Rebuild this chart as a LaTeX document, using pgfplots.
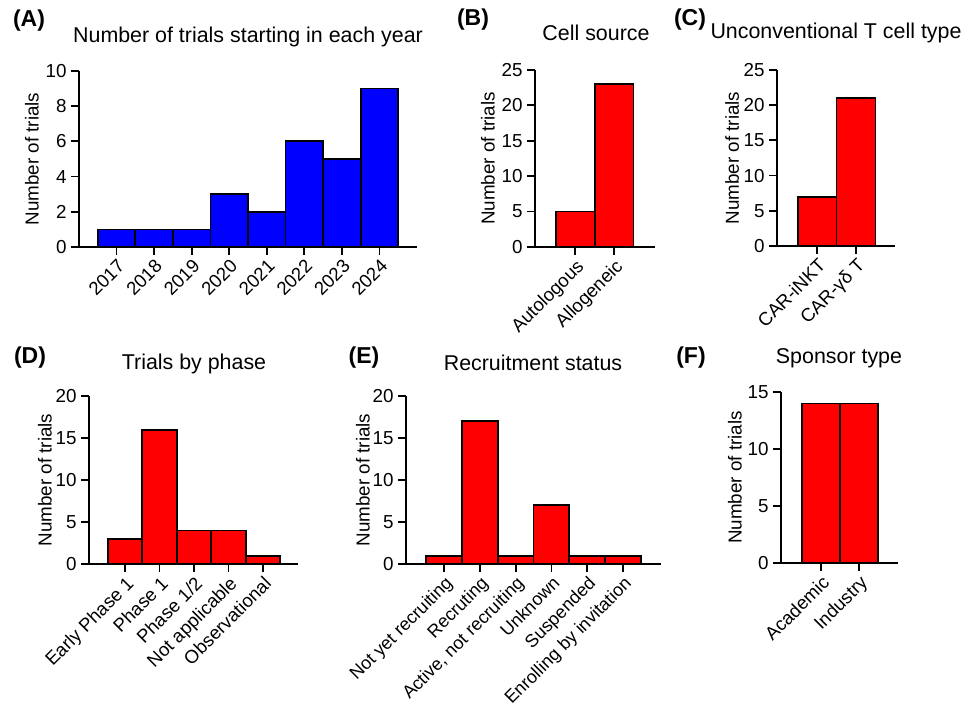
\documentclass[border=0pt]{standalone}
\usepackage{pgfplots}
\pgfplotsset{compat=1.18}
\usepackage{fontspec}
\setmainfont{Liberation Sans}
\newcommand\fs{\fontsize{9.4}{11}\selectfont}
\newcommand\fx{\fontsize{9.3}{11}\selectfont}
\newcommand\fe{\fontsize{9.0}{11}\selectfont}
\newcommand\ft{\fontsize{10.7}{12}\selectfont}
\newcommand\lf{\fontsize{11.5}{13}\selectfont\bfseries}
\definecolor{barblue}{RGB}{0,0,255}
\definecolor{barred}{RGB}{255,0,0}
\pgfplotsset{panel/.style={
  scale only axis, axis x line=bottom, axis y line=left,
  axis line style={-, line width=0.9pt},
  tick align=outside, major tick length=4pt,
  tick style={black, line width=0.9pt},
  ymin=0, ybar, bar width=1, xtick=data,
  enlargelimits=false, anchor=south west,
  xticklabel style={rotate=45, anchor=north east, inner sep=1pt, font=\fx},
  yticklabel style={font=\fs, inner sep=2pt},
  /pgf/number format/assume math mode=true,
  ylabel={Number of trials}, ylabel style={font=\fs, anchor=center},
}}
\begin{document}
\begin{tikzpicture}
\path[use as bounding box] (0,0) rectangle (484.5pt,354pt);
% (A)
\begin{axis}[panel, at={(39.5pt,230.5pt)}, width=169pt, height=88pt,
  xmin=-1, xmax=8, ymax=10, ytick={0,2,...,10},
  xticklabels={2017,2018,2019,2020,2021,2022,2023,2024},
  ylabel style={at={(axis description cs:-0.139,0.5)}}]
\addplot[fill=barblue, draw=black, line width=0.9pt] coordinates {(0,1) (1,1) (2,1) (3,3) (4,2) (5,6) (6,5) (7,9)};
\end{axis}
% (B)
\begin{axis}[panel, at={(267.5pt,230.5pt)}, width=60pt, height=88.5pt,
  xmin=-1.03, xmax=2.05, ymax=25, ytick={0,5,...,25},
  xticklabels={Autologous,Allogeneic},
  ylabel style={at={(axis description cs:-0.392,0.5)}}]
\addplot[fill=barred, draw=black, line width=0.9pt] coordinates {(0,5) (1,23)};
\end{axis}
% (C)
\begin{axis}[panel, at={(388.5pt,231pt)}, width=59pt, height=88pt,
  xmin=-1.03, xmax=2.0, ymax=25, ytick={0,5,...,25},
  xticklabels={CAR-iNKT,CAR-γδ T},
  ylabel style={at={(axis description cs:-0.381,0.5)}}]
\addplot[fill=barred, draw=black, line width=0.9pt] coordinates {(0,7) (1,21)};
\end{axis}
% (D)
\begin{axis}[panel, at={(44.5pt,72pt)}, width=104.5pt, height=84pt,
  xmin=-1.05, xmax=5.02, ymax=20, ytick={0,5,...,20},
  xticklabels={Early Phase 1,Phase 1,Phase 1/2,Not applicable,Observational},
  ylabel style={at={(axis description cs:-0.211,0.5)}}]
\addplot[fill=barred, draw=black, line width=0.9pt] coordinates {(0,3) (1,16) (2,4) (3,4) (4,1)};
\end{axis}
% (E)
\begin{axis}[panel, at={(203pt,72pt)}, width=127.5pt, height=84pt,
  xmin=-1.06, xmax=6.06, ymax=20, ytick={0,5,...,20},
  xticklabel style={font=\fe},
  xticklabels={Not yet recruiting,Recruting,{Active, not recruiting},Unknown,Suspended,Enrolling by invitation},
  ylabel style={at={(axis description cs:-0.169,0.5)}}]
\addplot[fill=barred, draw=black, line width=0.9pt] coordinates {(0,1) (1,17) (2,1) (3,7) (4,1) (5,1)};
\end{axis}
% (F)
\begin{axis}[panel, at={(390.5pt,72.5pt)}, width=58.5pt, height=85.5pt,
  xmin=-1.05, xmax=2.03, ymax=15, ytick={0,5,...,15},
  xticklabels={Academic,Industry},
  ylabel style={at={(axis description cs:-0.393,0.5)}}]
\addplot[fill=barred, draw=black, line width=0.9pt] coordinates {(0,14) (1,14)};
\end{axis}
% titles
\node[font=\ft] at (124pt,335.5pt) {Number of trials starting in each year};
\node[font=\ft] at (298pt,337.5pt) {Cell source};
\node[font=\ft] at (418pt,337.5pt) {Unconventional T cell type};
\node[font=\ft] at (97pt,172pt) {Trials by phase};
\node[font=\ft] at (266.5pt,172.5pt) {Recruitment status};
\node[font=\ft] at (419.5pt,175pt) {Sponsor type};
% panel letters
\node[font=\lf] at (14.5pt,343.5pt) {(A)};
\node[font=\lf] at (236.5pt,344pt) {(B)};
\node[font=\lf] at (345pt,344pt) {(C)};
\node[font=\lf] at (15pt,175pt) {(D)};
\node[font=\lf] at (182pt,175pt) {(E)};
\node[font=\lf] at (345.5pt,175pt) {(F)};
\end{tikzpicture}
\end{document}
